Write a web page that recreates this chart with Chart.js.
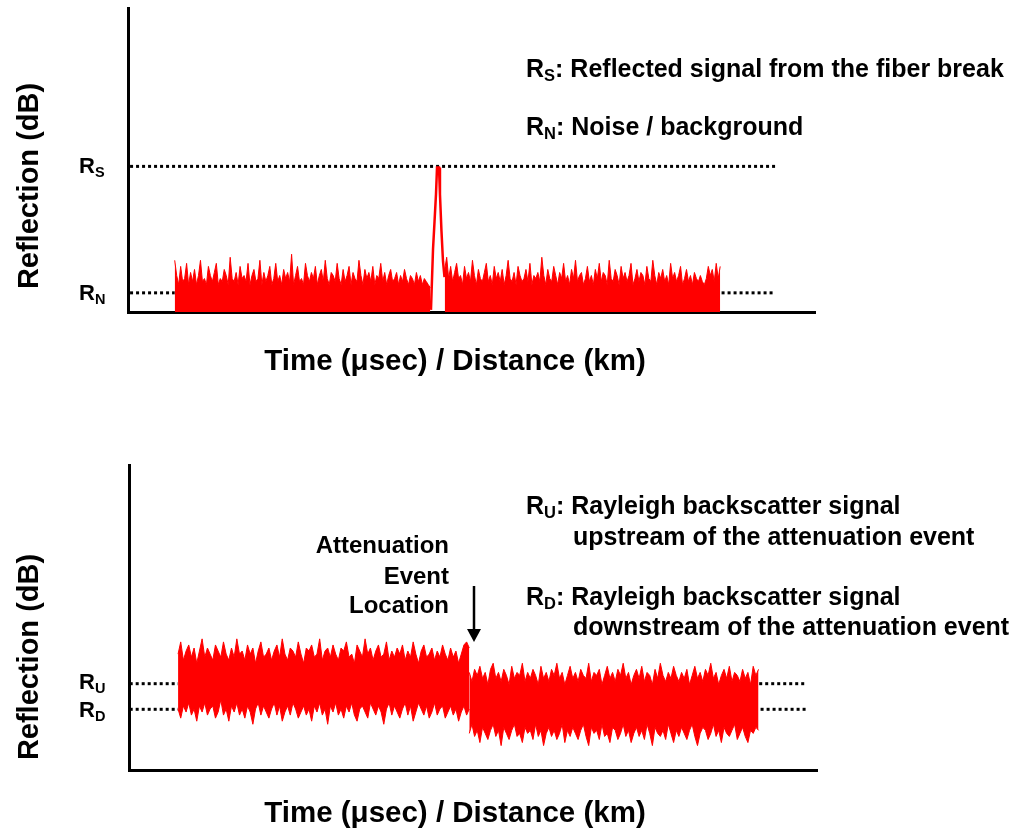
<!DOCTYPE html>
<html>
<head>
<meta charset="utf-8">
<script src="https://cdn.jsdelivr.net/npm/chart.js@4.4.0/dist/chart.umd.min.js"></script>
<style>
body { margin: 0; width: 1018px; height: 829px; background: #fff; overflow: hidden; position: relative;
       font-family: "Liberation Sans", Arial, sans-serif; font-weight: bold; color: #000; }
canvas { position: absolute; left: 0; }
.t { position: absolute; line-height: 1; white-space: nowrap; transform: translateY(-50%); }
.t sub { font-size: 0.66em; vertical-align: -0.3em; line-height: 0; }
.r { text-align: right; }
.rot { position: absolute; line-height: 1; white-space: nowrap; transform: translate(-50%, -50%) rotate(-90deg); }
.xt { position: absolute; line-height: 1; white-space: nowrap; transform: translate(-50%, -50%); }
</style>
</head>
<body>
<canvas id="breakChart" width="1018" height="400" style="top:0"></canvas>
<canvas id="attenChart" width="1018" height="379" style="top:450px"></canvas>

<!-- top panel text -->
<div class="rot" style="left:28px;top:186px;font-size:29px">Reflection (dB)</div>
<div class="xt" style="left:455px;top:360px;font-size:29.5px">Time (μsec) / Distance (km)</div>
<div class="t" style="left:79px;top:166px;font-size:22px">R<sub>S</sub></div>
<div class="t" style="left:79px;top:293px;font-size:22px">R<sub>N</sub></div>
<div class="t" style="left:526px;top:68px;font-size:25px">R<sub>S</sub>: Reflected signal from the fiber break</div>
<div class="t" style="left:526px;top:126px;font-size:25px">R<sub>N</sub>: Noise / background</div>

<!-- bottom panel text -->
<div class="rot" style="left:28px;top:657px;font-size:29px">Reflection (dB)</div>
<div class="xt" style="left:455px;top:812px;font-size:29.5px">Time (μsec) / Distance (km)</div>
<div class="t" style="left:79px;top:682px;font-size:22px">R<sub>U</sub></div>
<div class="t" style="left:79px;top:710px;font-size:22px">R<sub>D</sub></div>
<div class="t" style="left:526px;top:505px;font-size:25px">R<sub>U</sub>: Rayleigh backscatter signal</div>
<div class="t" style="left:573px;top:536px;font-size:25px">upstream of the attenuation event</div>
<div class="t" style="left:526px;top:596px;font-size:25px">R<sub>D</sub>: Rayleigh backscatter signal</div>
<div class="t" style="left:573px;top:626px;font-size:25px">downstream of the attenuation event</div>
<div class="t r" style="right:569px;top:545px;font-size:24px">Attenuation</div>
<div class="t r" style="right:569px;top:576px;font-size:24px">Event</div>
<div class="t r" style="right:569px;top:605px;font-size:24px">Location</div>
<svg style="position:absolute;left:0;top:0" width="1018" height="829">
  <line x1="474" y1="586" x2="474" y2="631" stroke="#000" stroke-width="2.5"/>
  <polygon points="467,629 481,629 474,642" fill="#000"/>
</svg>

<script>
// ---- top panel: fiber break ----
const RS = 47.9;
const RN = 6.3;

const leftNoiseStart = 6.8;
const leftNoiseEnd = 44.0;
const leftNoise = [
    17, 12, 9, 15, 10, 11, 16, 9, 13, 10,
    14, 9, 12, 17, 10, 11, 9, 15, 12, 10,
    13, 16, 9, 11, 10, 14, 12, 9, 18, 11,
    10, 13, 9, 15, 11, 12, 10, 16, 9, 12,
    14, 10, 11, 17, 9, 13, 10, 12, 15, 9,
    11, 16, 10, 12, 9, 14, 11, 13, 10, 19,
    9, 12, 15, 10, 11, 9, 16, 12, 10, 13,
    11, 15, 9, 12, 14, 10, 17, 11, 9, 13,
    12, 10, 16, 11, 9, 14, 10, 12, 15, 9,
    13, 11, 10, 17, 12, 9, 14, 11, 13, 10,
    15, 9, 12, 11, 16, 10, 13, 9, 12, 14,
    10, 11, 13, 9, 12, 10, 14, 11, 9, 12,
    11, 9, 13, 10, 12, 9, 11, 10, 9, 8];

const rightNoiseStart = 46.1;
const rightNoiseEnd = 86.2;
const rightNoise = [
    14, 18, 11, 15, 10, 13, 16, 11, 12, 9,
    15, 11, 13, 10, 17, 12, 9, 14, 11, 10,
    13, 16, 10, 12, 9, 15, 11, 13, 10, 14,
    9, 12, 17, 11, 10, 13, 9, 15, 12, 10,
    11, 14, 10, 16, 9, 12, 11, 13, 10, 18,
    12, 9, 14, 11, 10, 15, 12, 9, 13, 11,
    16, 10, 12, 9, 14, 11, 17, 10, 12, 13,
    9, 11, 15, 10, 12, 9, 14, 11, 16, 10,
    13, 12, 9, 17, 11, 10, 14, 12, 9, 15,
    11, 13, 10, 12, 16, 9, 11, 14, 10, 13,
    12, 9, 15, 11, 10, 17, 12, 9, 13, 11,
    14, 10, 12, 9, 16, 11, 13, 10, 12, 15,
    9, 11, 14, 10, 12, 9, 13, 11, 10, 12,
    10, 9, 11, 15, 12, 14, 10, 16, 11, 15];

// reflection peak at the break
const peakX = [44.10, 44.40, 44.62, 44.83, 44.98, 45.27, 45.41, 45.63, 45.85, 46.07];
const peakY = [0.7, 20.7, 29.8, 38.7, 47.5, 47.5, 38.7, 26.6, 16.7, 11.5];

// ---- bottom panel: attenuation event ----
const RU = 28.3;
const RD = 19.9;

const upStart = 7.13;
const eventX = 49.46;
const downEnd = 91.5;

const upUpper = [
    38, 42, 36, 39, 41, 37, 40, 35, 39, 43,
    37, 40, 38, 36, 41, 39, 37, 42, 38, 36,
    40, 37, 43, 38, 39, 36, 41, 38, 40, 35,
    39, 42, 37, 38, 40, 36, 39, 41, 37, 43,
    38, 36, 40, 39, 37, 42, 38, 35, 40, 39,
    41, 37, 38, 43, 36, 39, 40, 37, 41, 38,
    36, 40, 39, 42, 37, 38, 35, 41, 39, 37,
    43, 38, 40, 36, 39, 41, 37, 38, 42, 36,
    39, 37, 40, 38, 41, 36, 39, 37, 42, 38,
    35, 39, 41, 37, 38, 40, 36, 39, 37, 41,
    38, 36, 40, 37, 39, 35, 38, 41, 42, 40];
const upLower = [
    20, 17, 21, 19, 22, 18, 20, 16, 21, 19,
    22, 18, 20, 21, 17, 19, 23, 18, 20, 16,
    21, 19, 22, 18, 20, 17, 21, 19, 15, 20,
    22, 18, 21, 19, 17, 20, 22, 18, 21, 16,
    19, 21, 18, 22, 20, 17, 19, 21, 18, 20,
    16, 21, 19, 22, 18, 20, 15, 21, 19, 22,
    18, 20, 17, 21, 19, 22, 18, 16, 20, 21,
    19, 17, 22, 20, 18, 21, 19, 15, 20, 22,
    18, 21, 19, 17, 20, 22, 18, 21, 16, 19,
    22, 20, 18, 21, 17, 19, 22, 18, 20, 21,
    17, 19, 21, 18, 20, 16, 19, 21, 18, 20];
const downUpper = [
    32, 29, 33, 31, 34, 30, 32, 28, 33, 35,
    30, 32, 29, 33, 31, 28, 34, 30, 32, 31,
    35, 29, 32, 30, 33, 31, 28, 34, 30, 32,
    29, 33, 31, 35, 30, 32, 28, 31, 34, 30,
    32, 29, 33, 31, 30, 35, 29, 32, 31, 33,
    28, 31, 34, 30, 32, 29, 33, 31, 35, 30,
    32, 28, 31, 33, 30, 34, 29, 32, 31, 28,
    33, 30, 35, 31, 29, 32, 30, 34, 31, 29,
    32, 30, 33, 28, 31, 34, 30, 32, 29, 33,
    31, 35, 30, 32, 28, 31, 33, 30, 34, 29,
    32, 31, 29, 33, 30, 32, 28, 34, 31, 33];
const downLower = [
    12, 15, 11, 13, 9, 14, 12, 10, 13, 15,
    11, 13, 8, 14, 12, 10, 13, 15, 11, 12,
    9, 14, 12, 13, 10, 15, 11, 13, 8, 12,
    14, 11, 13, 10, 12, 15, 9, 13, 11, 14,
    12, 10, 13, 15, 11, 8, 14, 12, 13, 10,
    15, 11, 12, 9, 14, 13, 10, 12, 15, 11,
    13, 9, 12, 14, 11, 13, 10, 15, 12, 8,
    14, 12, 11, 13, 10, 15, 12, 9, 13, 11,
    14, 12, 10, 13, 15, 11, 8, 12, 14, 13,
    10, 12, 15, 11, 13, 9, 14, 12, 11, 13,
    15, 10, 12, 14, 11, 9, 13, 12, 14, 13];

const RED = "#ff0000";

// place readings evenly between a start and end distance
function spread(start, end, values) {
    const step = (end - start) / (values.length - 1);
    return values.map((v, i) => ({ x: start + i * step, y: v }));
}

function dotted(y, x1, x2) {
    return {
        data: [{ x: x1, y: y }, { x: x2, y: y }],
        borderColor: "#000",
        borderWidth: 3,
        borderDash: [3, 3],
        pointRadius: 0,
        fill: false
    };
}

function noise(points, fill) {
    return {
        data: points,
        borderColor: RED,
        backgroundColor: RED,
        borderWidth: 1,
        pointRadius: 0,
        tension: 0,
        fill: fill
    };
}

function axes() {
    const axis = {
        type: "linear",
        min: 0,
        max: 100,
        z: 1,
        ticks: { display: false },
        grid: { display: false, drawTicks: false },
        border: { display: true, color: "#000", width: 3 }
    };
    return { x: { ...axis }, y: { ...axis } };
}

const baseOptions = {
    responsive: false,
    animation: false,
    devicePixelRatio: 1,
    plugins: { legend: { display: false }, tooltip: { enabled: false } }
};

new Chart(document.getElementById("breakChart"), {
    type: "line",
    data: {
        datasets: [
            noise(spread(leftNoiseStart, leftNoiseEnd, leftNoise), "start"),
            noise(spread(rightNoiseStart, rightNoiseEnd, rightNoise), "start"),
            {
                data: peakX.map((x, i) => ({ x: x, y: peakY[i] })),
                borderColor: RED,
                borderWidth: 2.5,
                pointRadius: 0,
                fill: false
            },
            dotted(RS, 0.3, 94.2),
            dotted(RN, 0.3, leftNoiseStart),
            dotted(RN, 86.4, 94.2)
        ]
    },
    options: {
        ...baseOptions,
        layout: { padding: { left: 128, right: 203, top: 8, bottom: 88 } },
        scales: axes()
    }
});

new Chart(document.getElementById("attenChart"), {
    type: "line",
    data: {
        datasets: [
            noise(spread(upStart, eventX, upUpper), "+1"),
            noise(spread(upStart, eventX, upLower), false),
            noise(spread(eventX, downEnd, downUpper), "+1"),
            noise(spread(eventX, downEnd, downLower), false),
            dotted(RU, 0.1, upStart),
            dotted(RD, 0.1, upStart),
            dotted(RU, 91.6, 98.5),
            dotted(RD, 91.8, 98.6)
        ]
    },
    options: {
        ...baseOptions,
        layout: { padding: { left: 129, right: 201, top: 15, bottom: 59 } },
        scales: axes()
    }
});
</script>
</body>
</html>
